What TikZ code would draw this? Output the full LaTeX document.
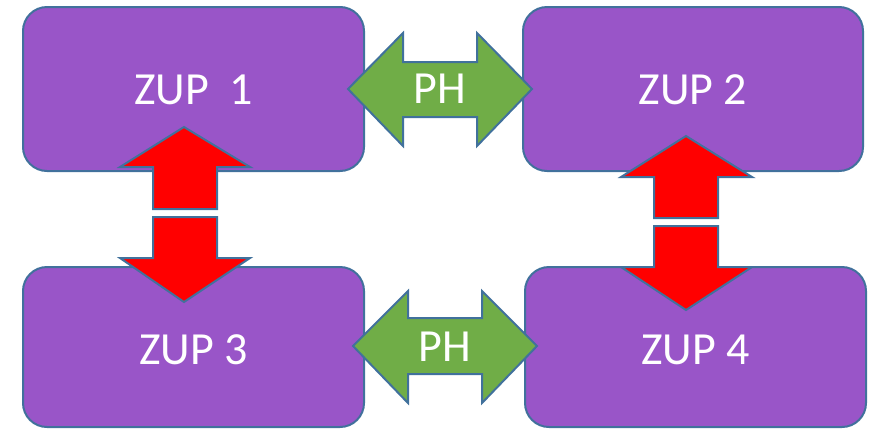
\documentclass[tikz,border=0pt]{standalone}
\usepackage{fontspec}
\setmainfont{Carlito}
\definecolor{zpurple}{HTML}{9955C8}
\definecolor{zline}{HTML}{41719C}
\definecolor{zgreen}{HTML}{70AD47}
\definecolor{zred}{HTML}{FF0000}
\tikzset{
  zup/.style={draw=zline, line width=2pt, fill=zpurple, rounded corners=24pt,
    text=white, font=\fontsize{46}{50}\selectfont, inner sep=0pt},
  blockarrow/.style={draw=zline, line width=2pt, line join=miter},
  phtext/.style={text=white, font=\fontsize{46}{50}\selectfont, inner sep=0pt}
}
\begin{document}
\begin{tikzpicture}[x=1pt,y=-1pt]
\useasboundingbox (0,0) rectangle (874,429);
% boxes
\node[zup, minimum width=341pt, minimum height=164pt, text height=31.5pt] (z1) at (193.5,89) {ZUP\ \ 1};
\node[zup, minimum width=340pt, minimum height=164pt, text height=31.5pt] (z2) at (693,89) {ZUP 2};
\node[zup, minimum width=341pt, minimum height=160pt, text height=36pt] (z3) at (193.5,347) {ZUP 3};
\node[zup, minimum width=341pt, minimum height=160pt, text height=36pt] (z4) at (695.5,347) {ZUP 4};
% green double arrows
\draw[blockarrow, fill=zgreen] (348,89) -- (403,33) -- (403,62) -- (477,62) -- (477,33) -- (532,89)
  -- (477,146) -- (477,117) -- (403,117) -- (403,146) -- cycle;
\node[phtext] (ph1) at (440,89) {PH};
\draw[blockarrow, fill=zgreen] (353,346) -- (408,291) -- (408,318) -- (482,318) -- (482,291) -- (537,346)
  -- (482,403) -- (482,374) -- (408,374) -- (408,403) -- cycle;
\node[phtext] (ph2) at (445,347) {PH};
% red arrows left
\draw[blockarrow, fill=zred] (184,127) -- (250,167) -- (217,167) -- (217,209) -- (153,209) -- (153,167) -- (120,167) -- cycle;
\draw[blockarrow, fill=zred] (153,217) -- (217,217) -- (217,258) -- (250,258) -- (184,302) -- (120,258) -- (153,258) -- cycle;
% red arrows right
\draw[blockarrow, fill=zred] (686,136) -- (752,177) -- (718,177) -- (718,218) -- (654,218) -- (654,177) -- (621,177) -- cycle;
\draw[blockarrow, fill=zred] (654,226) -- (718,226) -- (718,267) -- (752,267) -- (686,310) -- (621,267) -- (654,267) -- cycle;
\end{tikzpicture}
\end{document}
